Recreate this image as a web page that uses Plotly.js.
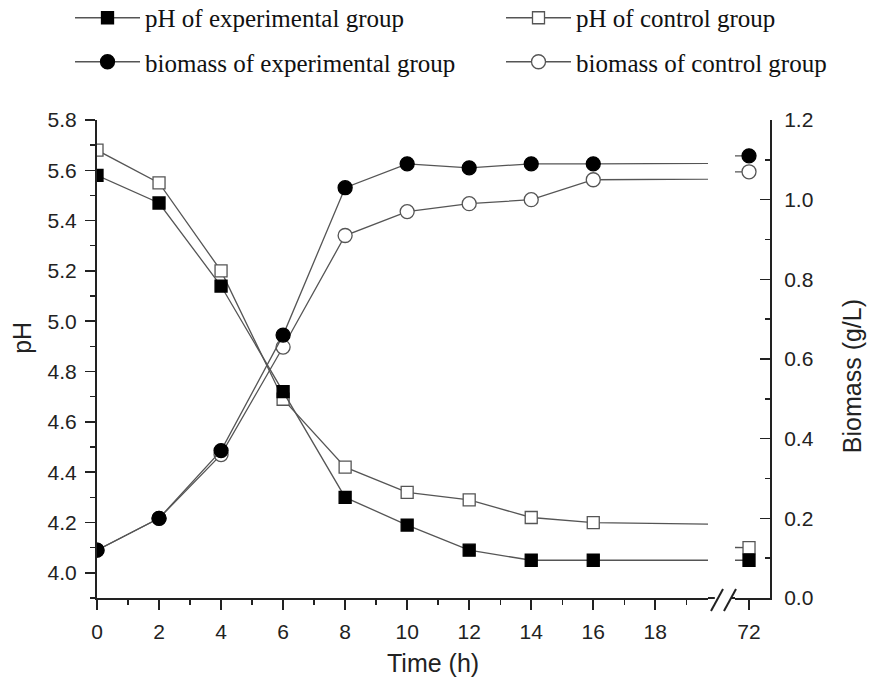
<!DOCTYPE html>
<html>
<head>
<meta charset="utf-8">
<script src="https://cdn.plot.ly/plotly-3.0.1.min.js"></script>
<style>html,body{margin:0;padding:0;background:#fff;}#chart{width:869px;height:681px;}</style>
</head>
<body>
<div id="chart"></div>
<script>
// Data
const timeH = [0, 2, 4, 6, 8, 10, 12, 14, 16, 72];
const phExperimental = [5.58, 5.47, 5.14, 4.72, 4.30, 4.19, 4.09, 4.05, 4.05, 4.05];
const phControl = [5.68, 5.55, 5.20, 4.69, 4.42, 4.32, 4.29, 4.22, 4.20, 4.10];
const biomassExperimental = [0.12, 0.20, 0.37, 0.66, 1.03, 1.09, 1.08, 1.09, 1.09, 1.11];
const biomassControl = [0.12, 0.20, 0.36, 0.63, 0.91, 0.97, 0.99, 1.00, 1.05, 1.07];
const seriesNames = ['pH of experimental group', 'pH of control group',
                     'biomass of experimental group', 'biomass of control group'];
const mainTicks = [0, 2, 4, 6, 8, 10, 12, 14, 16, 18];
const breakTicks = [72];

const LINE = '#555555';
const tickFont = {family: 'Liberation Sans, Arial, sans-serif', size: 21, color: '#222'};
const titleFont = {family: 'Liberation Sans, Arial, sans-serif', size: 25, color: '#222'};
const legendFont = {family: 'Liberation Serif, Times New Roman, serif', size: 25, color: '#111'};

// drawing order: control under experimental
const specs = [
  {y: phControl, name: seriesNames[1], yaxis: 'y', symbol: 'square', fill: '#fff', size: 12, legend: 'legend3'},
  {y: phExperimental, name: seriesNames[0], yaxis: 'y', symbol: 'square', fill: '#000', size: 12, legend: 'legend'},
  {y: biomassControl, name: seriesNames[3], yaxis: 'y2', symbol: 'circle', fill: '#fff', size: 14, legend: 'legend4'},
  {y: biomassExperimental, name: seriesNames[2], yaxis: 'y2', symbol: 'circle', fill: '#000', size: 14, legend: 'legend2'}
];

const traces = [];
specs.forEach((s) => {
  ['x', 'x2'].forEach((xa, j) => {
    traces.push({
      x: timeH, y: s.y, xaxis: xa, yaxis: s.yaxis,
      type: 'scatter', mode: 'lines+markers', name: s.name,
      legend: s.legend, showlegend: j === 0,
      line: {color: LINE, width: 1.3},
      marker: {symbol: s.symbol, size: s.size, color: s.fill,
               line: {color: s.fill === '#000' ? '#000' : LINE, width: 1.3}}
    });
  });
});

const d1 = 0.9079, d2 = 0.948;
const axisCommon = {
  showgrid: false, zeroline: false, showline: true, linecolor: '#222', linewidth: 2,
  ticks: 'outside', ticklen: 10, tickwidth: 1.6, tickcolor: '#222', tickfont: tickFont
};

function legendAt(x, y) {
  return {
    orientation: 'h', x: x, xanchor: 'left', y: y, yanchor: 'middle',
    font: legendFont, itemwidth: 65, bgcolor: 'rgba(0,0,0,0)', itemclick: false
  };
}

const layout = {
  width: 869, height: 681,
  margin: {l: 97, r: 99, t: 120, b: 83, autoexpand: false},
  paper_bgcolor: '#fff', plot_bgcolor: 'rgba(0,0,0,0)',
  xaxis: Object.assign({}, axisCommon, {
    domain: [0, d1], range: [0, 19.7], anchor: 'y',
    tickmode: 'array', tickvals: mainTicks, ticktext: mainTicks.map(String),
    minor: {dtick: 1, tick0: 0, ticks: 'outside', ticklen: 5, tickcolor: '#222', tickwidth: 1.4},
    ticklabelstandoff: 4
  }),
  xaxis2: Object.assign({}, axisCommon, {
    domain: [d2, 1], range: [71.548, 72.677], anchor: 'y',
    tickmode: 'array', tickvals: breakTicks, ticktext: breakTicks.map(String),
    ticklabelstandoff: 4
  }),
  yaxis: Object.assign({}, axisCommon, {
    domain: [0, 1], range: [3.9, 5.8], anchor: 'x', side: 'left',
    dtick: 0.2, tick0: 4.0, tickformat: '.1f',
    minor: {dtick: 0.1, ticks: 'outside', ticklen: 5, tickcolor: '#222', tickwidth: 1.4},
    ticklabelstandoff: 4
  }),
  yaxis2: Object.assign({}, axisCommon, {
    overlaying: 'y', side: 'right', anchor: 'x2', range: [0, 1.2],
    dtick: 0.2, tick0: 0, tickformat: '.1f', ticks: 'inside',
    minor: {dtick: 0.1, ticks: 'inside', ticklen: 5, tickcolor: '#222', tickwidth: 1.4},
    ticklabelstandoff: 8
  }),
  legend: legendAt(-0.0401, 1.2134),
  legend2: legendAt(-0.0401, 1.1213),
  legend3: legendAt(0.6003, 1.2134),
  legend4: legendAt(0.6003, 1.1213),
  shapes: [
    {type: 'line', xref: 'paper', yref: 'paper', x0: d1, x1: 0.918, y0: 0, y1: 0, line: {color: '#222', width: 2}},
    {type: 'line', xref: 'paper', yref: 'paper', x0: 0.942, x1: d2, y0: 0, y1: 0, line: {color: '#222', width: 2}},
    {type: 'line', xref: 'paper', yref: 'paper', x0: 0.9123, y0: -0.0272, x1: 0.9302, y1: 0.0188, line: {color: '#222', width: 2}},
    {type: 'line', xref: 'paper', yref: 'paper', x0: 0.9316, y0: -0.0272, x1: 0.9495, y1: 0.0188, line: {color: '#222', width: 2}}
  ],
  annotations: [
    {text: 'Time (h)', xref: 'paper', yref: 'paper', x: 0.499, y: -0.136, xanchor: 'center', yanchor: 'middle', showarrow: false, font: titleFont},
    {text: 'pH', xref: 'paper', yref: 'paper', x: -0.111, y: 0.545, xanchor: 'center', yanchor: 'middle', textangle: -90, showarrow: false, font: titleFont},
    {text: 'Biomass (g/L)', xref: 'paper', yref: 'paper', x: 1.121, y: 0.465, xanchor: 'center', yanchor: 'middle', textangle: -90, showarrow: false, font: titleFont}
  ]
};

Plotly.newPlot('chart', traces, layout, {displayModeBar: false, staticPlot: true});
</script>
</body>
</html>
